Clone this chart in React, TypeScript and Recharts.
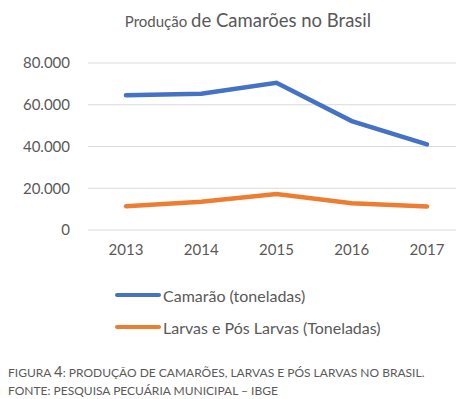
import React from "react";
import { LineChart, Line, XAxis, YAxis, CartesianGrid } from "recharts";

// ─── Data ───
const years = ["2013", "2014", "2015", "2016", "2017"];
const camarao = [64600, 65300, 70500, 52200, 41000];
const larvas = [11400, 13500, 17200, 12800, 11200];
const yTicks = [0, 20000, 40000, 60000, 80000];

const seriesInfo = [
  { key: "camarao", name: "Camarão (toneladas)", color: "#4472C4" },
  { key: "larvas", name: "Larvas e Pós Larvas (Toneladas)", color: "#ED7D31" },
];

const data = years.map((year, i) => ({ year, camarao: camarao[i], larvas: larvas[i] }));

const FONT = "Lato, 'Open Sans', sans-serif";
const TEXT = "#595959";

const fmt = (v: number) => (v === 0 ? "0" : v.toLocaleString("de-DE"));

export default function App() {
  return (
    <div
      style={{
        position: "absolute",
        left: 0,
        top: 0,
        width: 456,
        height: 399,
        overflow: "hidden",
        background: "#fff",
        fontFamily: FONT,
        color: TEXT,
      }}
    >
      {/* title */}
      <div
        style={{
          position: "absolute",
          top: 9,
          left: 0,
          width: 496,
          textAlign: "center",
          whiteSpace: "nowrap",
        }}
      >
        <span style={{ fontSize: 15 }}>Produção </span>
        <span style={{ fontSize: 18.5 }}>de Camarões no Brasil</span>
      </div>

      <div style={{ position: "absolute", left: 0, top: 0 }}>
        <LineChart
          width={465}
          height={265}
          data={data}
          margin={{ top: 63, right: 0, left: 0, bottom: 5 }}
        >
          <CartesianGrid vertical={false} stroke="#d9d9d9" strokeWidth={1} />
          <XAxis
            dataKey="year"
            axisLine={false}
            tickLine={false}
            height={30}
            tickMargin={8}
            padding={{ left: 38, right: 38 }}
            tick={{ fill: TEXT, fontSize: 15, fontFamily: FONT }}
          />
          <YAxis
            width={88}
            domain={[0, 80000]}
            ticks={yTicks}
            tickFormatter={fmt}
            axisLine={false}
            tickLine={false}
            tickMargin={12}
            tick={{ fill: TEXT, fontSize: 15, fontFamily: FONT }}
          />
          {seriesInfo.map((s) => (
            <Line
              key={s.key}
              dataKey={s.key}
              name={s.name}
              stroke={s.color}
              strokeWidth={4.5}
              dot={false}
              strokeLinecap="round"
              isAnimationActive={false}
            />
          ))}
        </LineChart>
      </div>

      {/* legend */}
      {seriesInfo.map((s, i) => (
        <div
          key={s.key}
          style={{
            position: "absolute",
            left: 115,
            top: 285 + i * 32,
            height: 20,
            display: "flex",
            alignItems: "center",
            fontSize: 16,
            whiteSpace: "nowrap",
          }}
        >
          <div
            style={{
              width: 46,
              height: 4.5,
              borderRadius: 3,
              background: s.color,
              marginRight: 2,
            }}
          />
          {s.name}
        </div>
      ))}

      {/* caption */}
      <div
        style={{
          position: "absolute",
          left: 8,
          top: 362,
          fontSize: 12,
          lineHeight: "18px",
          color: "#5a5a5a",
          whiteSpace: "nowrap",
        }}
      >
        <div>
          FIGURA <span style={{ fontSize: 15 }}>4</span>: PRODUÇÃO DE CAMARÕES, LARVAS E PÓS LARVAS NO BRASIL.
        </div>
        <div>FONTE: PESQUISA PECUÁRIA MUNICIPAL – IBGE</div>
      </div>
    </div>
  );
}
